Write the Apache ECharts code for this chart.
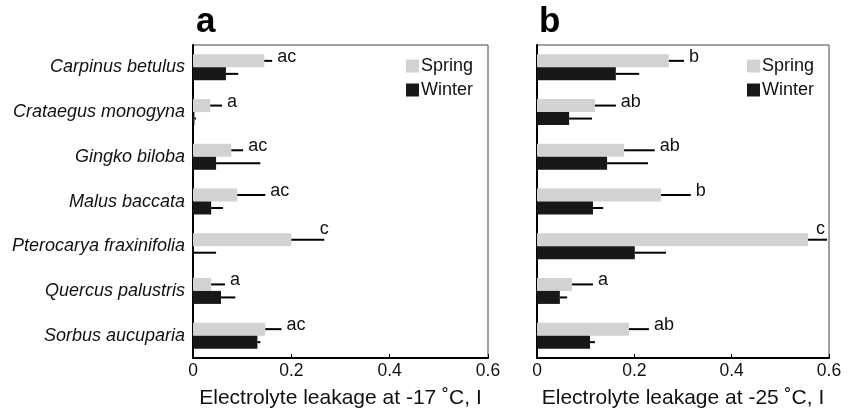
<!DOCTYPE html>
<html><head><meta charset="utf-8">
<script src="https://cdn.jsdelivr.net/npm/echarts@6/dist/echarts.min.js"></script>
<style>html,body{margin:0;padding:0;background:#fff}#c{width:856px;height:415px}</style>
</head><body><div id="c"></div>
<script>
const categories = ['Carpinus betulus','Crataegus monogyna','Gingko biloba','Malus baccata','Pterocarya fraxinifolia','Quercus palustris','Sorbus aucuparia'];
const xTicks = [0, 0.2, 0.4, 0.6];

const springA      = [0.145, 0.035, 0.078, 0.090, 0.200, 0.037, 0.147];
const springAUpper = [0.161, 0.059, 0.102, 0.147, 0.267, 0.065, 0.180];
const winterA      = [0.067, 0.003, 0.047, 0.037, 0.000, 0.057, 0.131];
const winterAUpper = [0.092, 0.006, 0.137, 0.061, 0.047, 0.086, 0.137];
const lettersA     = ['ac','a','ac','ac','c','a','ac'];

const springB      = [0.271, 0.119, 0.179, 0.255, 0.557, 0.072, 0.189];
const springBUpper = [0.302, 0.162, 0.242, 0.316, 0.596, 0.115, 0.230];
const winterB      = [0.162, 0.066, 0.144, 0.115, 0.201, 0.047, 0.109];
const winterBUpper = [0.210, 0.113, 0.228, 0.136, 0.265, 0.062, 0.119];
const lettersB     = ['b','ab','ab','b','c','a','ab'];

const FONT = 'Liberation Sans, Arial, Helvetica, sans-serif';
const SPRING = '#d2d2d2', WINTER = '#181818';
const BW = 13;

function errSeries(gi, vals, uppers, sign, letters) {
  const maxIdx = vals.indexOf(Math.max(...vals));
  return {
    type: 'custom', xAxisIndex: gi, yAxisIndex: gi, silent: true, z: 5,
    data: vals.map((v, i) => [v, uppers[i], i]),
    encode: { x: [0, 1], y: 2 },
    renderItem: function (params, api) {
      const c = api.value(2);
      const p0 = api.coord([api.value(0), c]);
      const p1 = api.coord([api.value(1), c]);
      const y = p0[1] + sign * BW / 2;
      const children = [{
        type: 'line',
        shape: { x1: p0[0], y1: y, x2: p1[0], y2: y },
        style: { stroke: '#000', lineWidth: 2 }
      }];
      if (letters) {
        const above = c === maxIdx;
        const gridRight = params.coordSys.x + params.coordSys.width;
        let tx = above ? p1[0] : p1[0] + 5;
        let align = above ? 'center' : 'left';
        if (above && tx + 8 > gridRight) { tx = gridRight - 4; align = 'right'; }
        children.push({
          type: 'text',
          style: {
            x: tx, y: above ? y - 11 : y - 4,
            text: letters[c], fill: '#111', font: '18px ' + FONT,
            align: align, verticalAlign: 'middle'
          }
        });
      }
      return { type: 'group', children: children };
    }
  };
}

function bar(gi, name, vals, color) {
  return {
    type: 'bar', name: name, xAxisIndex: gi, yAxisIndex: gi,
    data: vals, barWidth: BW, barGap: '0%',
    itemStyle: { color: color }
  };
}

const xNames = ['Electrolyte leakage at -17 \u02daC, I', 'Electrolyte leakage at -25 \u02daC, I'];

function xAxis(gi) {
  return {
    type: 'value', gridIndex: gi, min: 0, max: 0.6, interval: 0.2,
    name: xNames[gi], nameLocation: 'middle', nameGap: 30,
    nameTextStyle: { fontFamily: FONT, fontSize: 21, color: '#111' },
    axisLine: { show: true, lineStyle: { color: '#000', width: 2 } },
    axisTick: { show: true, inside: true, length: 4, lineStyle: { color: '#000', width: 1 } },
    axisLabel: { fontFamily: FONT, fontSize: 17.5, color: '#111', margin: 4,
      formatter: v => xTicks.includes(+v.toFixed(1)) ? String(+v.toFixed(1)) : '' },
    splitLine: { show: false }
  };
}
function yAxis(gi) {
  return {
    type: 'category', gridIndex: gi, data: categories, inverse: true,
    axisLine: { show: true, lineStyle: { color: '#000', width: 2 } },
    axisTick: { show: false },
    axisLabel: { show: gi === 0, fontFamily: FONT, fontSize: 18, fontStyle: 'italic', color: '#111', margin: 8 }
  };
}

const chart = echarts.init(document.getElementById('c'), null, { renderer: 'canvas' });
chart.setOption({
  animation: false,
  backgroundColor: '#fff',
  title: [
    { text: 'a', left: 191, top: 0, textStyle: { fontFamily: FONT, fontSize: 35, fontWeight: 'bold', color: '#000' } },
    { text: 'b', left: 534, top: 0, textStyle: { fontFamily: FONT, fontSize: 35, fontWeight: 'bold', color: '#000' } }
  ],
  legend: [0, 1].map(i => ({
    data: ['Spring', 'Winter'], orient: 'vertical', left: i === 0 ? 406 : 747, top: 57,
    itemWidth: 13, itemHeight: 13, itemGap: 6, icon: 'rect', padding: 0,
    textStyle: { fontFamily: FONT, fontSize: 18, color: '#111', padding: [0, 0, 0, -3] }
  })),
  grid: [
    { left: 193, right: 368, top: 45, bottom: 57, show: true, borderColor: '#444', borderWidth: 1 },
    { left: 537, right: 27, top: 45, bottom: 57, show: true, borderColor: '#444', borderWidth: 1 }
  ],
  xAxis: [xAxis(0), xAxis(1)],
  yAxis: [yAxis(0), yAxis(1)],
  series: [
    bar(0, 'Spring', springA, SPRING),
    bar(0, 'Winter', winterA, WINTER),
    bar(1, 'Spring', springB, SPRING),
    bar(1, 'Winter', winterB, WINTER),
    errSeries(0, springA, springAUpper, -1, lettersA),
    errSeries(0, winterA, winterAUpper, 1, null),
    errSeries(1, springB, springBUpper, -1, lettersB),
    errSeries(1, winterB, winterBUpper, 1, null)
  ]
});
</script></body></html>
